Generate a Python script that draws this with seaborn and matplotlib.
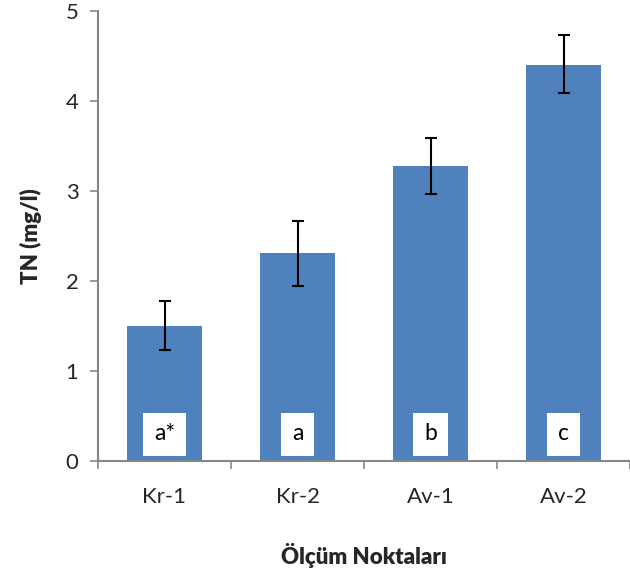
import matplotlib
matplotlib.use("Agg")
import matplotlib.pyplot as plt
import seaborn as sns
import numpy as np

categories = ["Kr-1", "Kr-2", "Av-1", "Av-2"]
values = [1.50, 2.31, 3.28, 4.40]
err_low = [1.23, 1.95, 2.97, 4.09]
err_high = [1.78, 2.67, 3.59, 4.73]
letters = ["a*", "a", "b", "c"]

sns.set_style("white")
plt.rcParams["font.family"] = ["Lato", "DejaVu Sans"]

fig = plt.figure(figsize=(6.30, 5.73), dpi=100)
ax = fig.add_axes([98/630, (573-461)/573, 1 - 98/630, (461-11)/573])

sns.barplot(x=categories, y=values, color="#4F81BD", saturation=1, width=0.565,
            errorbar=None, ax=ax, linewidth=0)

x = np.arange(len(categories))
v = np.array(values)
yerr = [v - np.array(err_low), np.array(err_high) - v]
ax.errorbar(x, v, yerr=yerr, fmt="none", ecolor="black", elinewidth=1.5,
            capsize=4.5, capthick=1.5)

for i, t in enumerate(letters):
    ax.text(i, 0.30, t, ha="center", va="center", fontsize=16.5, color="black",
            bbox=dict(facecolor="white", edgecolor="none", pad=8.0))

ax.set_ylim(0, 5)
ax.set_xlim(-0.5, 3.45)
ax.set_yticks([0, 1, 2, 3, 4, 5])
ax.tick_params(axis="y", labelsize=16, length=6, width=1.2, color="#868686",
               direction="out", pad=8, left=True)
ax.tick_params(axis="x", labelsize=16, length=0, pad=19)
ax.set_xticks([-0.5, 0.5, 1.5, 2.5, 3.5], minor=True)
ax.tick_params(axis="x", which="minor", length=6, width=1.2, color="#868686",
               direction="out", bottom=True)

for s in ["top", "right"]:
    ax.spines[s].set_visible(False)
for s in ["left", "bottom"]:
    ax.spines[s].set_color("#868686")
    ax.spines[s].set_linewidth(1.5)

ax.set_ylabel("TN (mg/l)", fontsize=16, fontweight="heavy", labelpad=17)
ax.set_xlabel("Ölçüm Noktaları", fontsize=16, fontweight="heavy", labelpad=26)

fig.savefig("out.png", dpi=100)
